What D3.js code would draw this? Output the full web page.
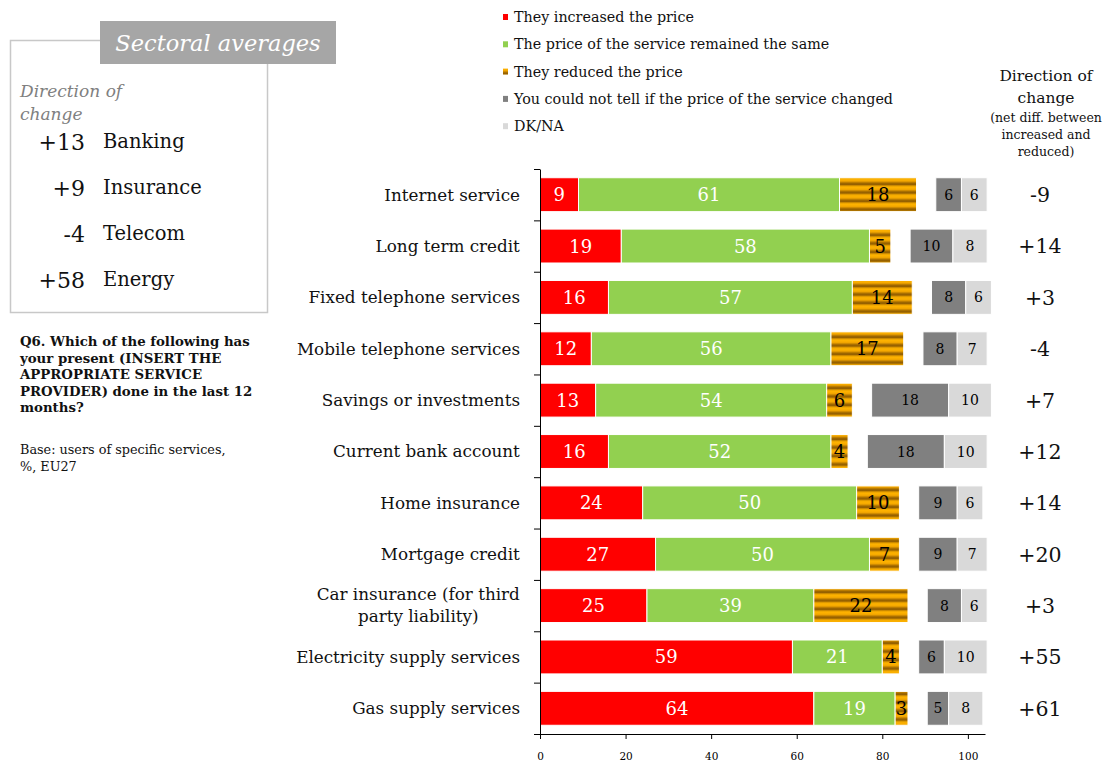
<!DOCTYPE html>
<html>
<head>
<meta charset="utf-8">
<script src="https://cdn.jsdelivr.net/npm/d3@7"></script>
<style>
  html, body { margin: 0; padding: 0; background: #ffffff; }
  svg { display: block; font-family: "DejaVu Serif", "Liberation Serif", serif; }
</style>
</head>
<body>
<svg id="chart" width="1104" height="762"></svg>
<script>
// Services surveyed (top to bottom)
const categories = [
  "Internet service",
  "Long term credit",
  "Fixed telephone services",
  "Mobile telephone services",
  "Savings or investments",
  "Current bank account",
  "Home insurance",
  "Mortgage credit",
  "Car insurance (for third party liability)",
  "Electricity supply services",
  "Gas supply services"
];

// Answer shares, % of users
const increased    = [9, 19, 16, 12, 13, 16, 24, 27, 25, 59, 64];
const sameprice    = [61, 58, 57, 56, 54, 52, 50, 50, 39, 21, 19];
const reduced      = [18, 5, 14, 17, 6, 4, 10, 7, 22, 4, 3];
const couldNotTell = [6, 10, 8, 8, 18, 18, 9, 9, 8, 6, 5];
const dkna         = [6, 8, 6, 7, 10, 10, 6, 7, 6, 10, 8];

// Net difference between increased and reduced
const netDiff = ["-9", "+14", "+3", "-4", "+7", "+12", "+14", "+20", "+3", "+55", "+61"];

// Sectoral averages panel
const sectorValues = ["+13", "+9", "-4", "+58"];
const sectorNames  = ["Banking", "Insurance", "Telecom", "Energy"];

const seriesNames = [
  "They increased the price",
  "The price of the service remained the same",
  "They reduced the price",
  "You could not tell if the price of the service changed",
  "DK/NA"
];
const xTicks = [0, 20, 40, 60, 80, 100];

// ---- styling ----
const FONT = "DejaVu Serif";
const seriesFill = ["#ff0000", "#92d050", "url(#stripes)", "#808080", "#d9d9d9"];
const seriesText = ["#ffffff", "#ffffff", "#000000", "#000000", "#000000"];
const seriesFont = [18, 18, 18, 14, 14];
const GAP = 4.5; // blank space (in % units) before the "could not tell" block

const svg = d3.select("#chart");
const defs = svg.append("defs");

// striped orange fill
const grad = defs.append("linearGradient")
  .attr("id", "stripeGrad").attr("x1", 0).attr("y1", 0).attr("x2", 0).attr("y2", 1);
[[0, "#ffb400"], [0.3, "#f5a800"], [0.55, "#a06800"], [0.7, "#8a5800"], [0.85, "#d89400"], [1, "#ffb400"]]
  .forEach(([o, c]) => grad.append("stop").attr("offset", o).attr("stop-color", c));
defs.append("pattern")
  .attr("id", "stripes").attr("patternUnits", "userSpaceOnUse")
  .attr("width", 10).attr("height", 8.5)
  .append("rect").attr("width", 10).attr("height", 8.5).attr("fill", "url(#stripeGrad)");

// ---- scales ----
const x = d3.scaleLinear().domain([0, 104]).range([540, 985]);
const y = d3.scaleBand().domain(categories).range([169, 734]).paddingInner(0.34).paddingOuter(0.17);
const yIdx = d3.scaleLinear().domain([0, categories.length]).range([169, 734]);

// ---- rows / segments ----
const seriesValues = [increased, sameprice, reduced, couldNotTell, dkna];
const rows = categories.map((cat, i) => {
  let acc = 0;
  const segs = seriesValues.map((vals, s) => {
    if (s === 3) acc += GAP;
    const seg = { cat, s, v: vals[i], x0: acc, x1: acc + vals[i] };
    acc += vals[i];
    return seg;
  });
  return { cat, segs };
});

const barsG = svg.append("g");
const row = barsG.selectAll("g.row").data(rows).join("g").attr("class", "row");
row.selectAll("rect").data(d => d.segs).join("rect")
  .attr("x", d => x(d.x0))
  .attr("y", d => y(d.cat))
  .attr("width", d => x(d.x1) - x(d.x0))
  .attr("height", y.bandwidth())
  .attr("fill", d => seriesFill[d.s])
  .attr("stroke", "#ffffff").attr("stroke-width", 1);

row.selectAll("text").data(d => d.segs).join("text")
  .attr("x", d => (x(d.x0) + x(d.x1)) / 2)
  .attr("y", d => y(d.cat) + y.bandwidth() / 2)
  .attr("dy", "0.36em")
  .attr("text-anchor", "middle")
  .attr("font-size", d => seriesFont[d.s])
  .attr("fill", d => seriesText[d.s])
  .text(d => d.v);

// ---- axes ----
const xAxis = svg.append("g").attr("transform", "translate(0,734)")
  .call(d3.axisBottom(x).tickValues(xTicks).tickSize(5).tickSizeOuter(0).tickPadding(14));
xAxis.select(".domain").attr("stroke", "#000");
xAxis.selectAll("text").attr("font-family", FONT).attr("font-size", 10.5).attr("fill", "#000");

const yAxis = svg.append("g").attr("transform", "translate(540,0)")
  .call(d3.axisLeft(yIdx).tickValues(d3.range(0, categories.length + 1)).tickFormat("").tickSize(6).tickSizeOuter(0));
yAxis.select(".domain").attr("stroke", "#000");

// category labels: right-aligned block, lines centred within the block
const labelRight = 520;
const labelsG = svg.append("g").attr("font-size", 16.8).attr("fill", "#111");
categories.forEach(cat => {
  const lines = cat === "Car insurance (for third party liability)"
    ? ["Car insurance (for third", "party liability)"] : [cat];
  const cy = y(cat) + y.bandwidth() / 2;
  const t = labelsG.append("text").attr("text-anchor", "middle");
  lines.forEach((ln, k) => {
    t.append("tspan").attr("x", 0)
      .attr("y", cy + (k - (lines.length - 1) / 2) * 22)
      .attr("dy", "0.35em").text(ln);
  });
  const w = t.node().getBBox().width;
  t.selectAll("tspan").attr("x", labelRight - w / 2);
});

// ---- legend ----
const legend = svg.append("g");
seriesNames.forEach((name, i) => {
  const cy = 17 + i * 27.3;
  legend.append("rect").attr("x", 503).attr("y", cy - 3).attr("width", 5).attr("height", 6)
    .attr("fill", seriesFill[i]);
  legend.append("text").attr("x", 514).attr("y", cy).attr("dy", "0.35em")
    .attr("font-size", 14.3).attr("fill", "#111").text(name);
});

// ---- right column: net difference ----
const rightG = svg.append("g").attr("text-anchor", "middle").attr("fill", "#111");
rightG.append("text").attr("x", 1046).attr("y", 81).attr("font-size", 15.5).text("Direction of");
rightG.append("text").attr("x", 1046).attr("y", 103).attr("font-size", 15.5).text("change");
["(net diff. between", "increased and", "reduced)"].forEach((s, k) => {
  rightG.append("text").attr("x", 1046).attr("y", 122 + k * 17).attr("font-size", 12.5).text(s);
});
rightG.selectAll("text.net").data(categories).join("text").attr("class", "net")
  .attr("x", 1040)
  .attr("y", (d) => y(d) + y.bandwidth() / 2)
  .attr("dy", "0.36em")
  .attr("font-size", 20.5)
  .text((d, i) => netDiff[i]);

// ---- sectoral averages panel ----
const panel = svg.append("g");
panel.append("rect").attr("x", 10.5).attr("y", 40.5).attr("width", 257).attr("height", 272)
  .attr("fill", "none").attr("stroke", "#c8c8c8").attr("stroke-width", 1.5);
panel.append("rect").attr("x", 100).attr("y", 21).attr("width", 236).attr("height", 43)
  .attr("fill", "#a6a6a6");
panel.append("text").attr("x", 218).attr("y", 43).attr("dy", "0.35em")
  .attr("text-anchor", "middle").attr("font-style", "italic").attr("font-size", 22.5)
  .attr("fill", "#ffffff").text("Sectoral averages");
panel.append("text").attr("x", 20).attr("y", 97).attr("font-style", "italic")
  .attr("font-size", 17).attr("fill", "#808080").text("Direction of");
panel.append("text").attr("x", 20).attr("y", 120).attr("font-style", "italic")
  .attr("font-size", 17).attr("fill", "#808080").text("change");
sectorValues.forEach((v, i) => {
  const cy = 142 + i * 46;
  panel.append("text").attr("x", 85).attr("y", cy).attr("dy", "0.36em")
    .attr("text-anchor", "end").attr("font-size", 22).attr("fill", "#111").text(v);
  panel.append("text").attr("x", 103).attr("y", cy).attr("dy", "0.33em")
    .attr("font-size", 19.5).attr("fill", "#111").text(sectorNames[i]);
});

// ---- question and base notes ----
const notes = svg.append("g").attr("fill", "#111");
["Q6. Which of the following has", "your present (INSERT THE", "APPROPRIATE SERVICE",
 "PROVIDER) done in the last 12", "months?"].forEach((s, k) => {
  notes.append("text").attr("x", 20).attr("y", 346 + k * 16.6)
    .attr("font-size", 13.3).attr("font-weight", "bold").text(s);
});
["Base: users of specific services,", "%, EU27"].forEach((s, k) => {
  notes.append("text").attr("x", 20).attr("y", 454 + k * 17)
    .attr("font-size", 12.8).text(s);
});
</script>
</body>
</html>
